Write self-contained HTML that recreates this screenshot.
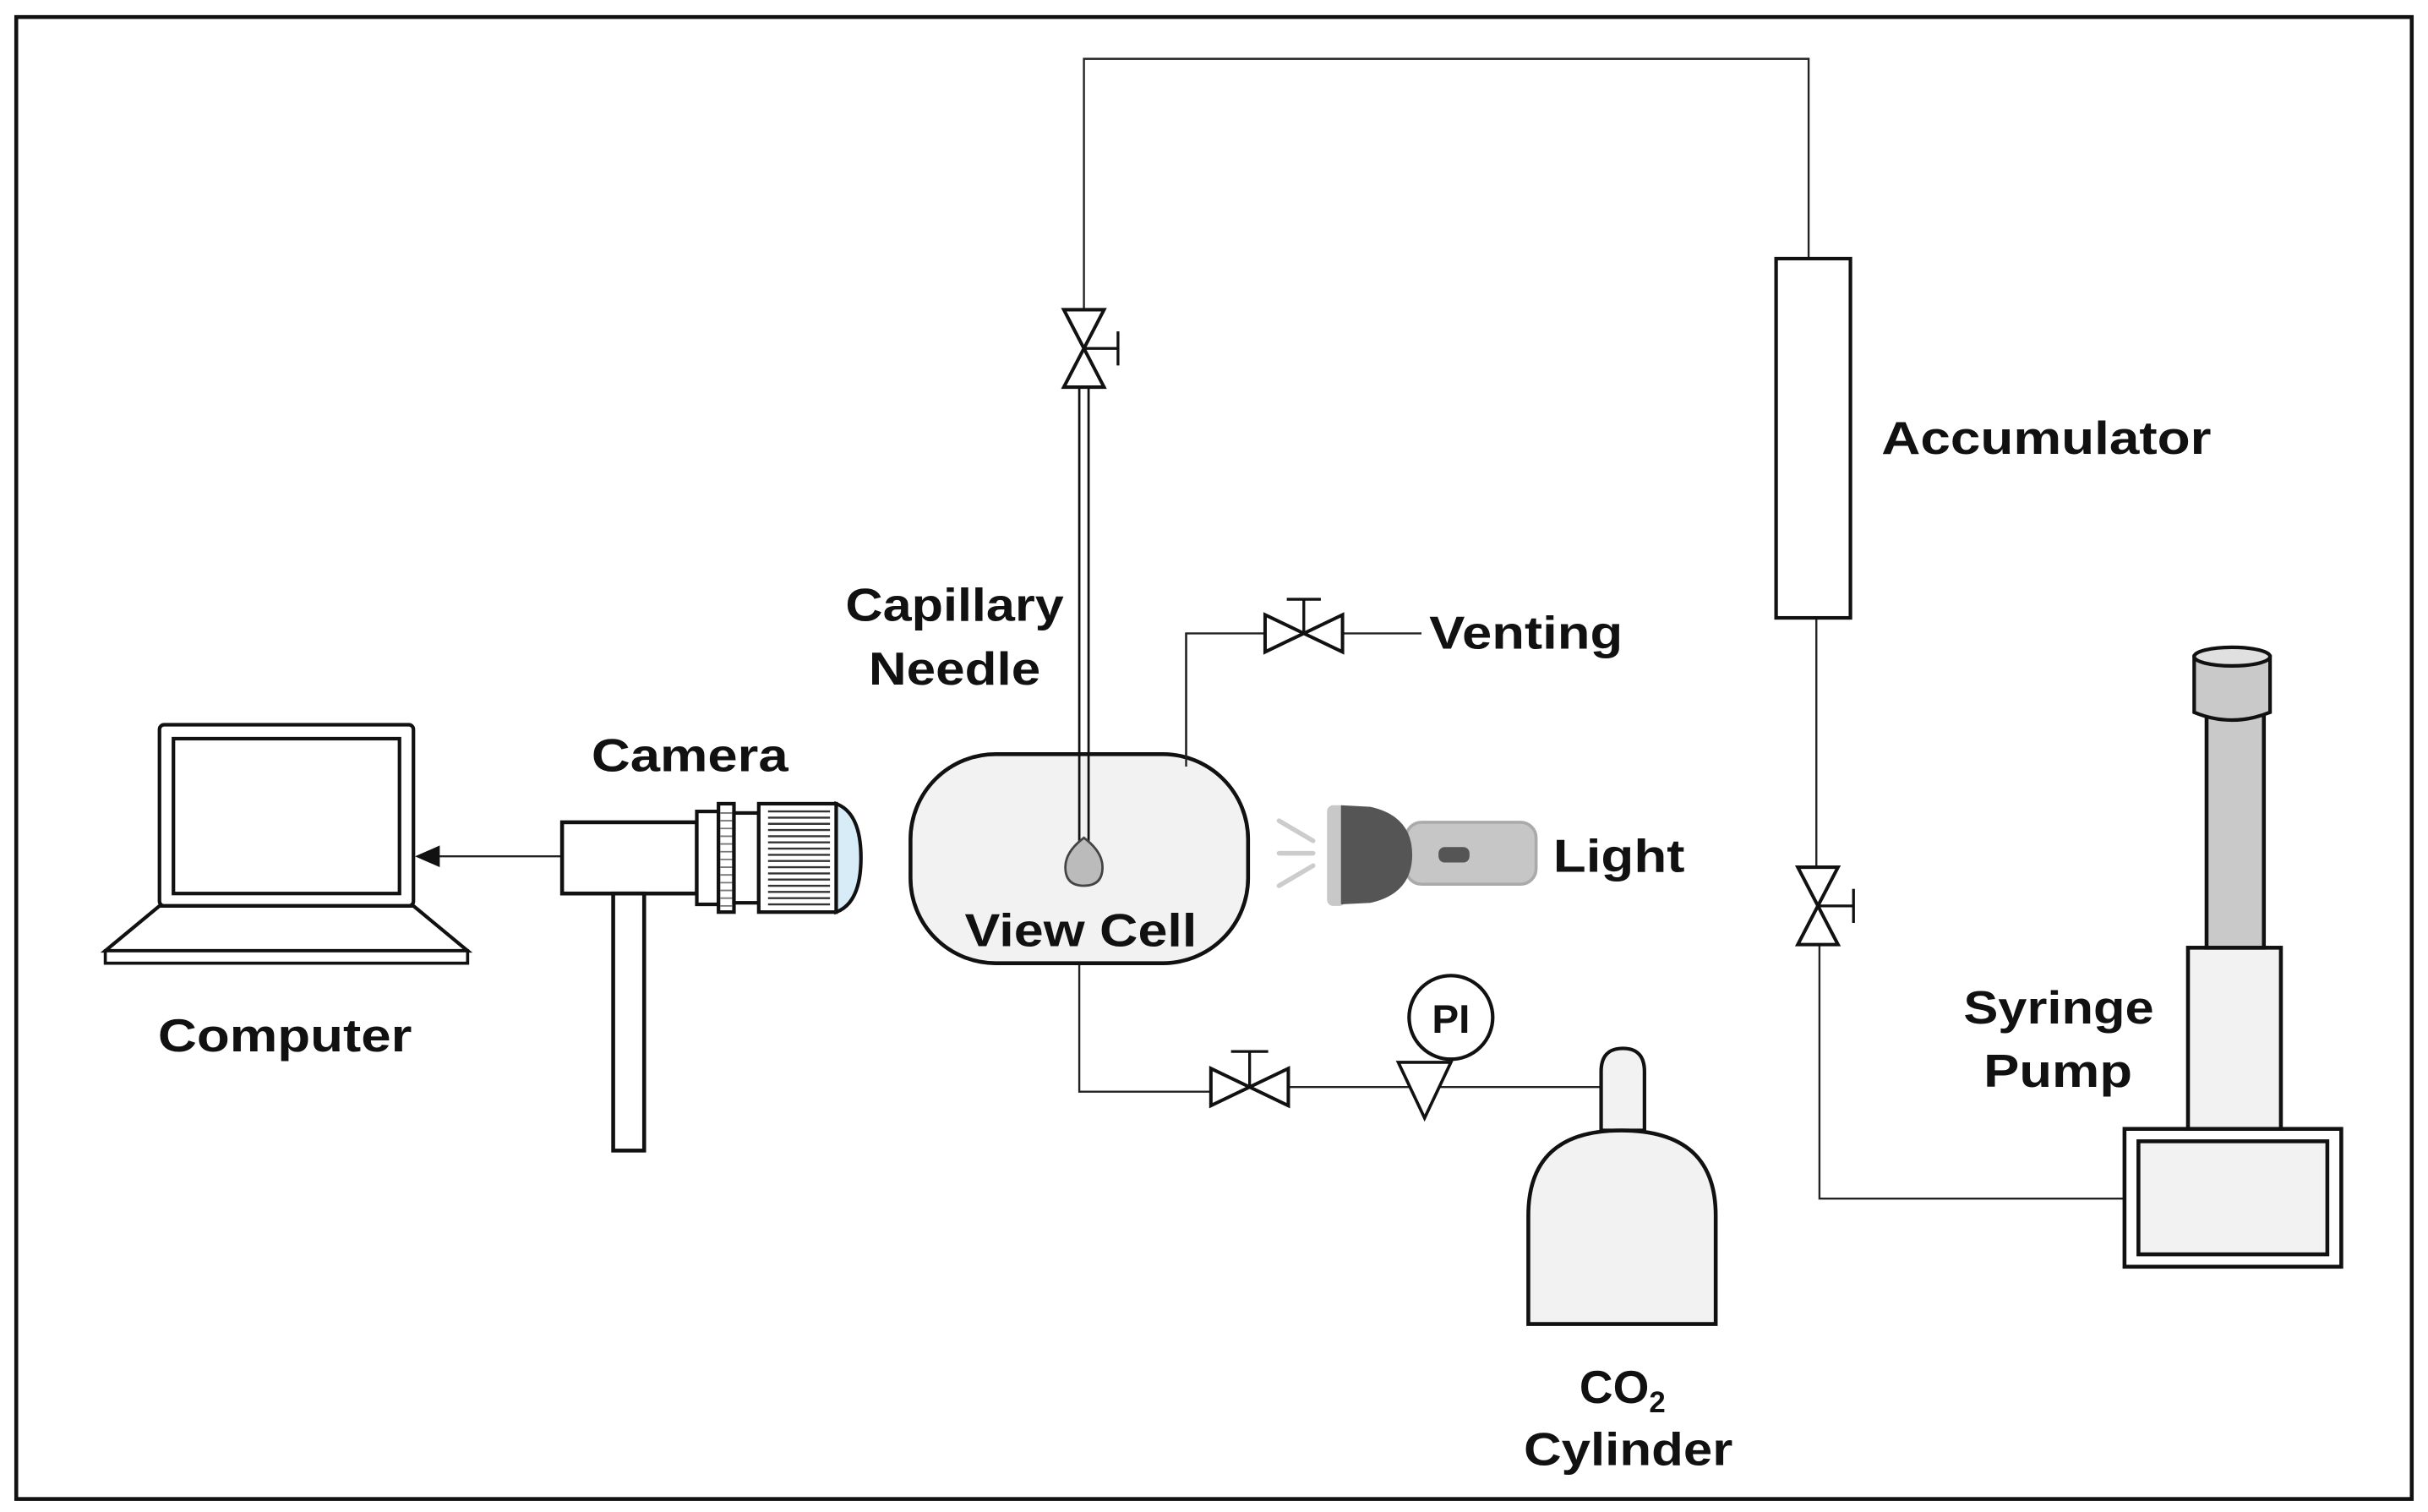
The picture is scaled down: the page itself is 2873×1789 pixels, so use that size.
<!DOCTYPE html>
<html><head><meta charset="utf-8"><style>
html,body{margin:0;padding:0;background:#fff;}
svg{display:block;}
text{font-family:"Liberation Sans",Arial,sans-serif;font-weight:bold;fill:#111;}
</style></head><body>
<svg width="2873" height="1789" viewBox="0 0 1568 976.4" preserveAspectRatio="none" xmlns="http://www.w3.org/2000/svg">
<rect x="0" y="0" width="1568" height="980" fill="#fff"/>
<rect x="10.5" y="11" width="1547" height="957" fill="none" stroke="#111" stroke-width="2.5"/>
<g fill="none" stroke="#222" stroke-width="1.3">
<polyline points="700,200 700,38 1168,38 1168,167"/>
<polyline points="766,495 766,409 817,409"/>
<line x1="867" y1="409" x2="918" y2="409"/>
<polyline points="697,622 697,705 782,705"/>
<line x1="832" y1="702" x2="1035" y2="702"/>
<line x1="1173" y1="399" x2="1173" y2="560"/>
<polyline points="1175,610 1175,774 1372,774"/>
<line x1="362" y1="553" x2="282" y2="553"/>
</g>
<polygon points="268,553 284,546 284,560" fill="#111"/>
<g fill="#fff" stroke="#111" stroke-width="2.2">
<polygon points="687,200 713,200 700,225 687,250 713,250 700,225"/>
<polygon points="817,397 817,421 842,409 867,397 867,421 842,409"/>
<polygon points="782,690 782,714 807,702 832,690 832,714 807,702"/>
<polygon points="1161,560 1187,560 1174,585 1161,610 1187,610 1174,585"/>
</g>
<g stroke="#111" stroke-width="1.8">
<line x1="700" y1="225" x2="722" y2="225"/><line x1="722" y1="214" x2="722" y2="236"/>
<line x1="1174" y1="585" x2="1197" y2="585"/><line x1="1197" y1="574" x2="1197" y2="596"/>
<line x1="842" y1="409" x2="842" y2="387"/><line x1="831" y1="387" x2="853" y2="387"/>
<line x1="807" y1="702" x2="807" y2="679"/><line x1="795" y1="679" x2="819" y2="679"/>
</g>
<rect x="588" y="487" width="218" height="135" rx="55" fill="#f2f2f2" stroke="#111" stroke-width="2.5"/>
<line x1="766" y1="409" x2="766" y2="495" stroke="#222" stroke-width="1.3"/>
<g stroke="#111" stroke-width="1.5"><line x1="697" y1="250" x2="697" y2="545"/><line x1="703" y1="250" x2="703" y2="545"/></g>
<path d="M700,541 Q712,550 712,560 Q712,572 700,572 Q688,572 688,560 Q688,550 700,541Z" fill="#bbb" stroke="#444" stroke-width="1.5"/>
<g stroke="#ccc" stroke-width="3" stroke-linecap="round"><line x1="826" y1="530" x2="848" y2="543"/><line x1="826" y1="551" x2="848" y2="551"/><line x1="826" y1="572" x2="848" y2="559"/></g>
<rect x="908" y="531" width="84" height="40" rx="10" fill="#c6c6c6" stroke="#aaa" stroke-width="2"/>
<rect x="857" y="520" width="12" height="65" rx="4" fill="#c8c8c8"/>
<path d="M866,520 L885,521 Q912,527 912,552 Q912,577 885,583 L866,584Z" fill="#555"/>
<rect x="929" y="547" width="20" height="10" rx="4" fill="#555"/>
<polygon points="903,686 937,686 920,722" fill="#fff" stroke="#111" stroke-width="2"/>
<circle cx="937" cy="657" r="27" fill="#fff" stroke="#111" stroke-width="2.3"/>
<text x="937" y="667" font-size="26" text-anchor="middle">PI</text>
<path d="M1034,730 L1034,692 Q1034,677 1048,677 Q1062,677 1062,692 L1062,730Z" fill="#f2f2f2" stroke="#111" stroke-width="2.3"/>
<path d="M987,855 L987,785 Q987,730 1047,730 Q1108,730 1108,785 L1108,855Z" fill="#f2f2f2" stroke="#111" stroke-width="2.5"/>
<rect x="1147" y="167" width="48" height="232" fill="#fff" stroke="#111" stroke-width="2.3"/>
<rect x="1372" y="729" width="140" height="89" fill="#fff" stroke="#111" stroke-width="2.5"/>
<rect x="1381" y="737" width="122" height="73" fill="#f2f2f2" stroke="#111" stroke-width="2.5"/>
<rect x="1413" y="612" width="60" height="117" fill="#f2f2f2" stroke="#111" stroke-width="2.5"/>
<rect x="1425" y="455" width="37" height="157" fill="#c9c9c9" stroke="#111" stroke-width="2.5"/>
<path d="M1417,424 L1417,460 Q1441,470 1466,460 L1466,424Z" fill="#c9c9c9" stroke="#111" stroke-width="2.3"/>
<ellipse cx="1441.5" cy="424" rx="24.5" ry="6" fill="#e0e0e0" stroke="#111" stroke-width="2.3"/>
<rect x="103" y="468" width="164" height="117" rx="3" fill="#fff" stroke="#111" stroke-width="2.3"/>
<rect x="112" y="477" width="146" height="100" fill="#fff" stroke="#111" stroke-width="2.3"/>
<polygon points="103,585 267,585 302,614 68,614" fill="#fff" stroke="#111" stroke-width="2.3"/>
<rect x="68" y="614" width="234" height="8" fill="#fff" stroke="#111" stroke-width="2"/>
<rect x="363" y="531" width="87" height="46" fill="#fff" stroke="#111" stroke-width="2.5"/>
<rect x="396" y="577" width="20" height="166" fill="#fff" stroke="#111" stroke-width="2.5"/>
<rect x="450" y="524" width="14" height="60" fill="#fff" stroke="#111" stroke-width="2.3"/>
<rect x="464" y="519" width="10" height="70" fill="#fff" stroke="#111" stroke-width="2.3"/>
<g stroke="#777" stroke-width="1"><path d="M465,525H473M465,530H473M465,535H473M465,540H473M465,545H473M465,550H473M465,555H473M465,560H473M465,565H473M465,570H473M465,575H473M465,580H473M465,585H473"/></g>
<rect x="474" y="525" width="16" height="58" fill="#fff" stroke="#111" stroke-width="2.3"/>
<path d="M540,519 Q556,525 556,554 Q556,583 540,589Z" fill="#d8ecf8" stroke="#111" stroke-width="2.3"/>
<rect x="490" y="519" width="50" height="70" fill="#fff" stroke="#111" stroke-width="2.3"/>
<g stroke="#333" stroke-width="1.3"><path d="M496,524H536M496,528H536M496,532H536M496,536H536M496,540H536M496,544H536M496,548H536M496,552H536M496,556H536M496,560H536M496,564H536M496,568H536M496,572H536M496,576H536M496,580H536M496,584H536"/></g>
<g font-size="30">
<text x="546" y="401" textLength="141" lengthAdjust="spacingAndGlyphs">Capillary</text>
<text x="561" y="442" textLength="111" lengthAdjust="spacingAndGlyphs">Needle</text>
<text x="923" y="419" textLength="125" lengthAdjust="spacingAndGlyphs">Venting</text>
<text x="623" y="611" textLength="150" lengthAdjust="spacingAndGlyphs">View Cell</text>
<text x="1003" y="563" textLength="85" lengthAdjust="spacingAndGlyphs">Light</text>
<text x="382" y="498" textLength="127" lengthAdjust="spacingAndGlyphs">Camera</text>
<text x="102" y="679" textLength="164" lengthAdjust="spacingAndGlyphs">Computer</text>
<text x="1215" y="293" textLength="213" lengthAdjust="spacingAndGlyphs">Accumulator</text>
<text x="1268" y="661" textLength="123" lengthAdjust="spacingAndGlyphs">Syringe</text>
<text x="1281" y="702" textLength="96" lengthAdjust="spacingAndGlyphs">Pump</text>
<text x="1020" y="906">CO<tspan font-size="19" dy="6">2</tspan></text>
<text x="984" y="946" textLength="135" lengthAdjust="spacingAndGlyphs">Cylinder</text>
</g>
</svg>
</body></html>
